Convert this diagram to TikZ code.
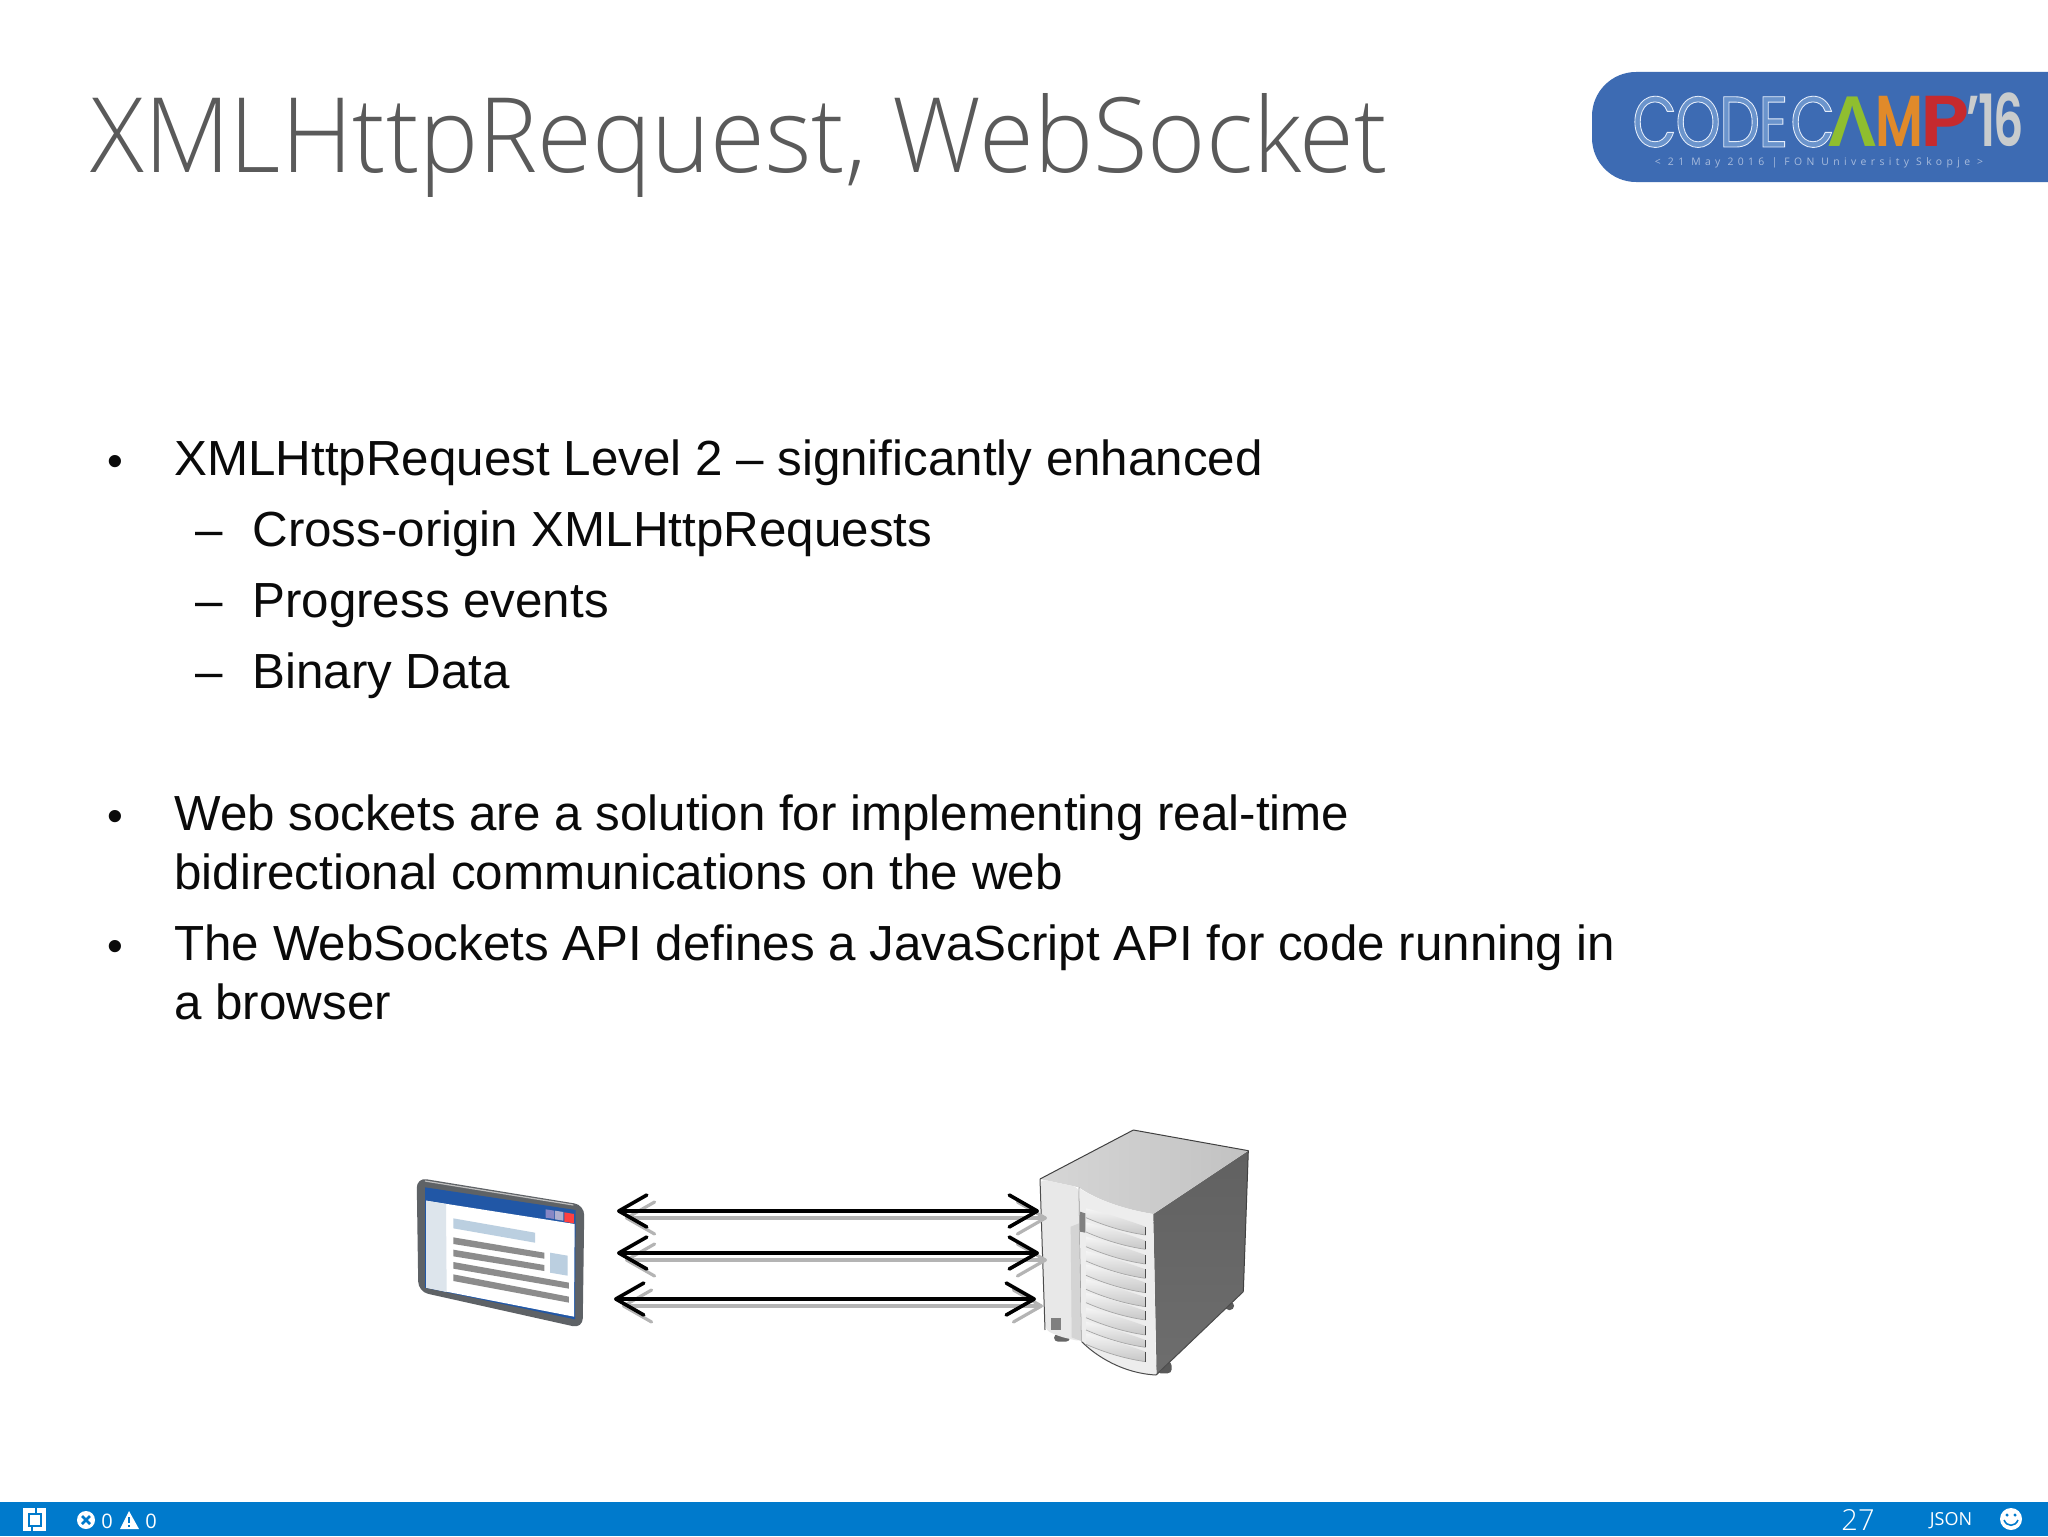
\documentclass[tikz,border=0pt]{standalone}
\usepackage{fontspec}
\usetikzlibrary{arrows.meta}
\setmainfont{Liberation Sans}
\newfontfamily\titlefont{Open Sans Light}[FakeStretch=0.958]
\newfontfamily\pagefont{Open Sans Light}
\newfontfamily\barfont{Open Sans}
\newfontfamily\logofat{Poppins}[FakeStretch=0.8,LetterSpace=-2,FakeBold=1.2]
\newfontfamily\logobold{Poppins SemiBold}[FakeStretch=0.74,LetterSpace=-2]
\newfontfamily\logobroad{Poppins SemiBold}[FakeStretch=1.12]
\newfontfamily\logoyear{Poppins SemiBold}[FakeStretch=0.66,LetterSpace=-2]
\newfontfamily\logolam{Liberation Sans Bold}
\newfontfamily\logosub{Open Sans}[LetterSpace=42]
\definecolor{titlegrey}{HTML}{5A5A5A}
\definecolor{bodyblack}{HTML}{0A0A0A}
\definecolor{barblue}{HTML}{007ACC}
\definecolor{logoblue}{HTML}{3D6BB3}
\definecolor{framegrey}{HTML}{5E6266}
\definecolor{winblue}{HTML}{2157A6}
\definecolor{paleblue}{HTML}{BBCFE0}
\definecolor{sidepale}{HTML}{DDE5EC}
\definecolor{linegrey}{HTML}{8C8C8C}
\definecolor{arrowgrey}{HTML}{B4B4B4}
\definecolor{camelgreen}{HTML}{8FBE2F}
\definecolor{camporange}{HTML}{E08A2A}
\definecolor{campred}{HTML}{C62A2E}
\definecolor{yeargrey}{HTML}{C9CCCD}
\newcommand{\bodyfs}{\fontsize{24.66pt}{29pt}\selectfont}
\newcommand{\bulletfs}{\fontsize{22.5pt}{24pt}\selectfont}
\newcommand{\outlinetext}[1]{\special{pdf:bcolor [0.42 0.58 0.80] [0.90 0.93 0.98]}#1\special{pdf:ecolor}}
\tikzset{
  bodyline/.style={anchor=base west,inner sep=0pt,text=bodyblack,font=\bodyfs},
  mark dot/.style={anchor=base,inner sep=0pt,text=bodyblack,font=\bulletfs},
  mark dash/.style={anchor=base,inner sep=0pt,text=bodyblack,font=\bodyfs},
  barlabel/.style={inner sep=0pt,text=white,font=\barfont\fontsize{10pt}{12pt}\selectfont},
  blackflow/.style={line width=1.6pt,black,{Straight Barb[length=14pt,width=16pt,line width=1.8pt,round]}-{Straight Barb[length=14pt,width=16pt,line width=1.8pt,round]}},
  greyflow/.style={line width=2.2pt,arrowgrey,{Straight Barb[length=14pt,width=16pt,line width=1.6pt,round]}-{Straight Barb[length=14pt,width=16pt,line width=1.6pt,round]}},
  outlined/.style={inner sep=0pt,anchor=base west},
}
\begin{document}
\begin{tikzpicture}[x=0.5pt,y=-0.5pt]
\useasboundingbox (0,0) rectangle (2048,1536);
\fill[white] (0,0) rectangle (2048,1536);

% title
\node[inner sep=0pt,anchor=base west,text=titlegrey,font=\titlefont\fontsize{52pt}{60pt}\selectfont] (title) at (90,172) {XMLHttpRequest, WebSocket};

% logo
\fill[logoblue,rounded corners=22pt] (1592,72) -- (1592,182) -- (2100,182) -- (2100,72) -- cycle;
\begin{scope}[every node/.style={outlined}]
\node[font=\logofat\fontsize{36pt}{38pt}\selectfont] (code) at (1632,147) {\outlinetext{CODE}};
\node[font=\logofat\fontsize{36pt}{38pt}\selectfont] (camc) at (1790,147) {\outlinetext{C}};
\node[text=camelgreen,font=\logolam\fontsize{36pt}{38pt}\selectfont] (la) at (1828,147) {Λ};
\node[text=camporange,font=\logobold\fontsize{36pt}{38pt}\selectfont] (ma) at (1875,147) {M};
\node[text=campred,font=\logobroad\fontsize{36pt}{38pt}\selectfont] (pa) at (1920,147) {P};
\node[text=yeargrey,font=\logoyear\fontsize{36pt}{38pt}\selectfont] (yr) at (1966,147) {’16};
\end{scope}
\node[inner sep=0pt,text=logoblue!45!white,font=\logosub\fontsize{5.2pt}{6pt}\selectfont] (logosub) at (1819,163) {< 21 May 2016 | FON University Skopje >};

% body
\node[mark dot] (b1) at (115,476) {•};
\node[bodyline] (t1) at (174,475) {XMLHttpRequest Level 2 – significantly enhanced};
\node[mark dash] (d1) at (209,546) {–};
\node[bodyline] (t2) at (252,546) {Cross-origin XMLHttpRequests};
\node[mark dash] (d2) at (209,617) {–};
\node[bodyline] (t3) at (252,617) {Progress events};
\node[mark dash] (d3) at (209,688) {–};
\node[bodyline] (t4) at (252,688) {Binary Data};
\node[mark dot] (b2) at (115,831) {•};
\node[bodyline] (t5) at (174,830) {Web sockets are a solution for implementing real-time};
\node[bodyline] (t6) at (174,889) {bidirectional communications on the web};
\node[mark dot] (b3) at (115,961) {•};
\node[bodyline] (t7) at (174,960) {The WebSockets API defines a JavaScript API for code running in};
\node[bodyline] (t8) at (174,1019) {a browser};

% browser
\begin{scope}[shift={(400,1110)},x=1pt/6,y=-1pt/6]
\fill[framegrey,rounded corners=5pt] (50,203) -- (553,285) -- (548,655) -- (55,545) -- cycle;
\draw[black!25,line width=0.6pt] (75,213) -- (520,285);
\fill[winblue] (75,232) -- (527,300) -- (525,628) -- (75,533) -- cycle;
\fill[white] (78,272) -- (524,342) -- (522,620) -- (78,533) -- cycle;
\fill[sidepale] (78,272) -- (138,282) -- (140,546) -- (78,533) -- cycle;
\fill[paleblue] (160,325) -- (405,368) -- (405,398) -- (160,355) -- cycle;
\foreach \ya/\xb/\yb in {382/433/428,419/433/465,456/507/518,493/507/560}
  \fill[linegrey] (160,\ya) -- (\xb,\yb) -- (\xb,\yb+18) -- (160,\ya+20) -- cycle;
\fill[paleblue] (450,428) -- (503,437) -- (503,497) -- (450,488) -- cycle;
\fill[blue!35!gray!70!white] (437,298) -- (463,302) -- (463,327) -- (437,323) -- cycle;
\fill[blue!25!gray!50!white] (465,302) -- (490,306) -- (490,332) -- (465,328) -- cycle;
\fill[red!75!white] (493,307) -- (522,312) -- (522,340) -- (493,335) -- cycle;
\end{scope}

% server
\begin{scope}[shift={(980,1110)},x=1pt/6,y=-1pt/6]
\fill[black!60,rounded corners=2pt] (222,672) rectangle (270,695);
\fill[black!65,rounded corners=2pt] (530,755) rectangle (575,790);
\fill[black!65,rounded corners=2pt] (735,575) rectangle (762,600);
\shade[top color=black!62,bottom color=black!57,line join=round] (520,312) -- (805,122) -- (790,545) -- (530,795) -- cycle;
\shade[left color=black!16,right color=black!24,line join=round] (180,207) -- (460,60) -- (805,122) -- (520,312) .. controls (440,300) and (350,270) .. (297,232) -- cycle;
\draw[black!75,line width=0.5pt,line join=round] (180,207) -- (460,60) -- (805,122) -- (790,545);
\fill[black!9,rounded corners=3pt] (180,207) -- (297,232) -- (305,695) -- (240,680) -- (195,660) -- cycle;
\draw[black!70,line width=0.5pt] (180,207) -- (195,660);
\fill[black!17] (272,350) -- (297,340) -- (303,693) -- (275,682) -- cycle;
\draw[black!40,line width=0.5pt] (297,232) -- (305,695);
\fill[black!7] (298,235) .. controls (350,270) and (440,300) .. (520,312) -- (528,795) .. controls (430,790) and (350,740) .. (305,695) -- cycle;
\foreach \ra/\rb in {350/375,392/418,435/462,478/505,518/548,562/590,603/630,648/675,690/712,725/755}{
  \shade[top color=black!4,bottom color=black!22] (318,\ra-55) .. controls (380,\ra-40) and (440,\ra-20) .. (497,\ra) -- (497,\rb) .. controls (440,\rb-8) and (380,\rb-25) .. (318,\rb-52) -- cycle;
  \draw[black!35,line width=0.35pt] (318,\rb-52) .. controls (380,\rb-25) and (440,\rb-8) .. (497,\rb);
  \draw[black!70,line width=0.6pt] (497,\rb) -- (497,\ra);
}
\fill[black!50] (300,305) -- (316,310) -- (316,368) -- (300,365) -- cycle;
\fill[black!50] (212,625) rectangle (244,660);
\draw[black!70,line width=0.5pt] (305,695) .. controls (350,740) and (430,790) .. (528,795) -- (790,545);
\end{scope}

% connectors
\coordinate (gl1) at (625,1218); \coordinate (gr1) at (1047,1218);
\coordinate (gl2) at (625,1260); \coordinate (gr2) at (1047,1260);
\coordinate (gl3) at (622,1306); \coordinate (gr3) at (1043,1306);
\coordinate (kl1) at (617,1211); \coordinate (kr1) at (1039,1211);
\coordinate (kl2) at (617,1253); \coordinate (kr2) at (1039,1253);
\coordinate (kl3) at (614,1299); \coordinate (kr3) at (1036,1299);
\draw[greyflow] (gl1) -- (gr1);
\draw[greyflow] (gl2) -- (gr2);
\draw[greyflow] (gl3) -- (gr3);
\draw[blackflow] (kl1) -- (kr1);
\draw[blackflow] (kl2) -- (kr2);
\draw[blackflow] (kl3) -- (kr3);

% status bar
\fill[barblue] (0,1502) rectangle (2048,1536);
\fill[white] (23,1508) rectangle (46,1531);
\draw[barblue,line width=0.9pt] (29,1514) rectangle (41,1526);
\draw[barblue,line width=0.9pt] (36,1508) -- (36,1514) (32,1526) -- (32,1531);
\fill[white] (86,1520) circle[radius=9];
\draw[barblue,line width=1.3pt] (82,1516) -- (90,1524) (90,1516) -- (82,1524);
\fill[white] (129,1511) -- (139,1529) -- (120,1529) -- cycle;
\draw[barblue,line width=1pt] (129,1517) -- (129,1523) (129,1525) -- (129,1527);
\node[barlabel] (errs) at (107,1521) {0};
\node[barlabel] (warns) at (151,1521) {0};
\node[inner sep=0pt,text=white,font=\pagefont\fontsize{14.5pt}{16pt}\selectfont] (page) at (1858,1520) {27};
\node[inner sep=0pt,text=white,font=\barfont\fontsize{9pt}{10pt}\selectfont] (lang) at (1951,1521) {JSON};
\fill[white] (2011,1519) circle[radius=11];
\fill[barblue] (2007,1515) circle[radius=1.7] (2015,1515) circle[radius=1.7];
\draw[barblue,line width=0.8pt] (2004,1520) .. controls (2007,1527) and (2015,1527) .. (2018,1520);
\end{tikzpicture}
\end{document}
